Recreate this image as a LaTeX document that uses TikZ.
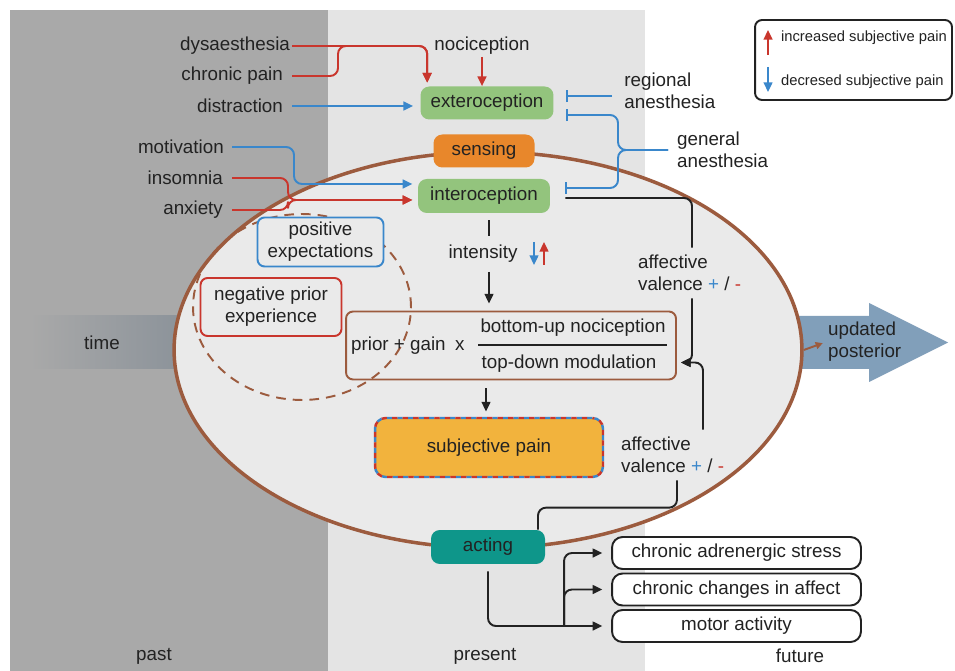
\documentclass[tikz,border=0pt]{standalone}
\usepackage{fontspec}
\setmainfont{Liberation Sans}
\usetikzlibrary{arrows.meta,calc,shapes.geometric}

\definecolor{pastgray}{HTML}{A9A9A9}
\definecolor{nowgray}{HTML}{E4E4E4}
\definecolor{ovalfill}{HTML}{EAEAEA}
\definecolor{ovalbrown}{HTML}{9C5B3E}
\definecolor{rd}{HTML}{C9362D}
\definecolor{bl}{HTML}{3A87CB}
\definecolor{sensegreen}{HTML}{93C47D}
\definecolor{senseorange}{HTML}{E8872B}
\definecolor{actteal}{HTML}{0E968A}
\definecolor{painyellow}{HTML}{F2B33D}
\definecolor{postblue}{HTML}{819FBA}
\definecolor{timegray}{HTML}{8C939A}
\definecolor{ink}{HTML}{222222}

\tikzset{
  lbl/.style={font=\fontsize{10.7}{12.5}\selectfont, inner sep=1pt, text=ink},
  small/.style={font=\fontsize{8.4}{10}\selectfont, inner sep=1pt, text=ink},
  stage/.style={lbl, rounded corners=5pt, minimum height=0.66cm},
  frame/.style={lbl, align=center, fill=ovalfill, rounded corners=4pt, line width=1.1pt},
  outbox/.style={lbl, draw=ink, fill=white, rounded corners=6pt, line width=1.1pt, minimum width=4.98cm, minimum height=0.64cm},
  model/.style={ellipse, draw=ovalbrown, fill=ovalfill, line width=2pt, inner sep=0pt, minimum width=12.56cm, minimum height=7.92cm},
  wire/.style={draw=ink, line width=1.1pt, rounded corners=4.5pt},
  redwire/.style={wire, draw=rd},
  bluewire/.style={wire, draw=bl},
  block/.style={-{Bar[width=7pt]}}
}

\begin{document}
\begin{tikzpicture}[x=0.02cm,y=-0.02cm,line join=round,>={Triangle[length=5.5pt,width=5pt]}]
  \useasboundingbox (0,0) rectangle (955,671);
  % past / present / future
  \fill[pastgray] (10,10) rectangle (328,671);
  \fill[nowgray] (328,10) rectangle (645,671);
  \shade[left color=pastgray, right color=timegray] (30,316) rectangle (180,369);
  \fill[postblue] (795,316) -- (869,316) -- (869,303) -- (948,342.5) -- (869,382) -- (869,369) -- (795,369) -- cycle;
  \node[lbl] (time) at (102,343) {time};
  \node[lbl, align=left, anchor=west] (posterior) at (826,342) {updated\\posterior};
  \node[lbl] (past) at (154,656) {past};
  \node[lbl] (present) at (485,656) {present};
  \node[lbl] (future) at (800,656) {future};

  \node[model] (model) at (488,350) {};
  \draw[ovalbrown, line width=1.1pt, -{Triangle[length=4pt,width=4pt]}, shorten >=2pt] (model.east) -- (posterior.west);

  \node[draw=ovalbrown, fill=ovalfill, rounded corners=4pt, line width=1.1pt, minimum width=6.6cm, minimum height=1.36cm] (formula) at (511,345.5) {};
  \draw[ovalbrown, line width=1.1pt, dash pattern=on 5.5pt off 4pt] (302,307) ellipse [x radius=2.18cm, y radius=1.86cm];
  \node[lbl, anchor=west] (prior) at (349,346) {prior + gain\enspace x};
  \node[lbl] (num) at (573,328) {bottom-up nociception};
  \node[lbl] (den) at (569,364) {top-down modulation};
  \draw[ink, line width=1.1pt] (478,345) -- (667,345);

  % sensing
  \node[stage, fill=sensegreen, minimum width=2.66cm] (extero) at (487,103) {exteroception};
  \node[stage, fill=senseorange, minimum width=2.02cm] (sensing) at (484,151) {sensing};
  \node[stage, fill=sensegreen, minimum width=2.64cm, minimum height=0.68cm] (intero) at (484,196) {interoception};
  \node[lbl] (noci) at (482,46) {nociception};
  \node[lbl, anchor=east] (dysa) at (292,46) {dysaesthesia};
  \node[lbl, anchor=east, inner xsep=5pt] (chron) at (292,76) {chronic pain};
  \node[lbl, anchor=east, inner xsep=5pt] (distr) at (292,106) {distraction};
  \node[lbl, anchor=east, inner xsep=4.5pt] (motiv) at (232,147) {motivation};
  \node[lbl, anchor=east, inner xsep=5pt] (insom) at (232,178) {insomnia};
  \node[lbl, anchor=east, inner xsep=5pt] (anx) at (232,210) {anxiety};
  \node[lbl, anchor=west, align=left, inner xsep=0.24cm] (regional) at (612,91) {regional\\anesthesia};
  \node[lbl, anchor=west, align=left, inner xsep=5pt] (general) at (668,150) {general\\anesthesia};

  \draw[redwire,->] (noci.south) -- (noci.south |- extero.north);
  \draw[redwire,->,shorten >=2pt] (dysa.east) -| ([xshift=0.14cm]extero.north west);
  \draw[redwire,->,shorten >=2pt] (chron.east) -| ($(dysa.east)+(46,0)$) -| ([xshift=0.14cm]extero.north west);
  \draw[bluewire,->,shorten >=4pt] (distr.east) -- (extero.west |- distr.east);
  \draw[bluewire,->,shorten >=3pt] (motiv.east) -| (294,184) -- (intero.west |- 0,184);
  \coordinate (redmerge) at (288,200);
  \draw[redwire,->,shorten >=3pt] (insom.east) -| (redmerge) -- (intero.west |- redmerge);
  \draw[redwire,->,shorten >=3pt] (anx.east) -| (redmerge) -- (intero.west |- redmerge);
  \draw[bluewire,block,shorten >=0.24cm] (regional.west |- 0,96) -- (extero.east |- 0,96);
  \draw[bluewire,block,shorten >=0.24cm] (general.west) -| (618,115) -- (extero.east |- 0,115);
  \draw[bluewire,block,shorten >=0.3cm] (general.west) -| (618,188) -- (intero.east |- 0,188);

  % priors
  \node[frame, draw=bl, minimum width=2.52cm, minimum height=0.98cm] (posexp) at (320.5,242) {positive\\expectations};
  \node[frame, draw=rd, minimum width=2.82cm, minimum height=1.16cm] (negprior) at (271,307) {negative prior\\experience};

  % intensity
  \node[lbl] (intens) at (483,254) {intensity};
  \draw[wire, shorten <=4pt, shorten >=4pt] ([xshift=0.1cm]intero.south) -- ([xshift=0.1cm]intero.south |- intens.north);
  \draw[bluewire,->] (534,242) -- (534,265);
  \draw[redwire,->] (544,265) -- (544,242);
  \draw[wire,->, shorten <=4pt, shorten >=4pt] ([xshift=0.12cm]intens.south) -- ([xshift=0.12cm]intens.south |- formula.north);

  % outcome
  \node[lbl, fill=painyellow, draw=bl, line width=1.4pt, dash pattern=on 3pt off 3pt, rounded corners=6pt, minimum width=4.56cm, minimum height=1.18cm, postaction={draw=rd, line width=1.4pt, dash pattern=on 3pt off 3pt, dash phase=3pt}] (subjpain) at (489,447.5) {subjective pain};
  \draw[wire,->, shorten <=4.5pt, shorten >=3pt] ([xshift=-0.06cm]subjpain.north |- formula.south) -- ([xshift=-0.06cm]subjpain.north);

  \node[lbl, anchor=north west, align=left] (val1) at (636,253) {affective\\valence {\color{bl}+} / {\color{rd}-}};
  \node[lbl, anchor=north west, align=left] (val2) at (619,435) {affective\\valence {\color{bl}+} / {\color{rd}-}};
  \node[stage, fill=actteal, minimum width=2.28cm, minimum height=0.68cm] (acting) at (488,547) {acting};

  \draw[wire, shorten <=0.3cm, shorten >=3pt] (intero.east |- 0,198) -| ([xshift=1.12cm]val1.north west);
  \draw[wire,->, shorten <=3pt, shorten >=2.3pt] ([xshift=1.12cm]val1.south west) |- ([yshift=-0.34cm]formula.east);
  \draw[wire,->, shorten <=3pt, shorten >=2.3pt] ([xshift=1.68cm]val2.north west) |- ([yshift=-0.34cm]formula.east);
  \draw[wire, shorten >=3pt] ([xshift=1cm]acting.north) -- ++(0,-22) -| ([xshift=1.16cm]val2.south west);

  \node[outbox] (stress) at (736.5,553) {chronic adrenergic stress};
  \node[outbox] (affect) at (736.5,589.5) {chronic changes in affect};
  \node[outbox] (motor) at (736.5,626) {motor activity};
  \coordinate (split) at ($(motor.west)+(-47,0)$);
  \draw[wire,->, shorten <=4pt, shorten >=5pt] (acting.south) |- (motor.west);
  \draw[wire,->, shorten >=5pt] (split) |- (affect.west);
  \draw[wire,->, shorten >=5pt] (split) |- (stress.west);

  % legend
  \node[draw=ink, fill=white, line width=1.1pt, rounded corners=4pt, minimum width=3.94cm, minimum height=1.6cm] (legend) at (853.5,60) {};
  \draw[redwire,->] (768,55) -- (768,30);
  \draw[bluewire,->] (768,67) -- (768,92);
  \node[small, anchor=west] (up) at (779,38) {increased subjective pain};
  \node[small, anchor=west] (down) at (779,82) {decresed subjective pain};
\end{tikzpicture}
\end{document}
